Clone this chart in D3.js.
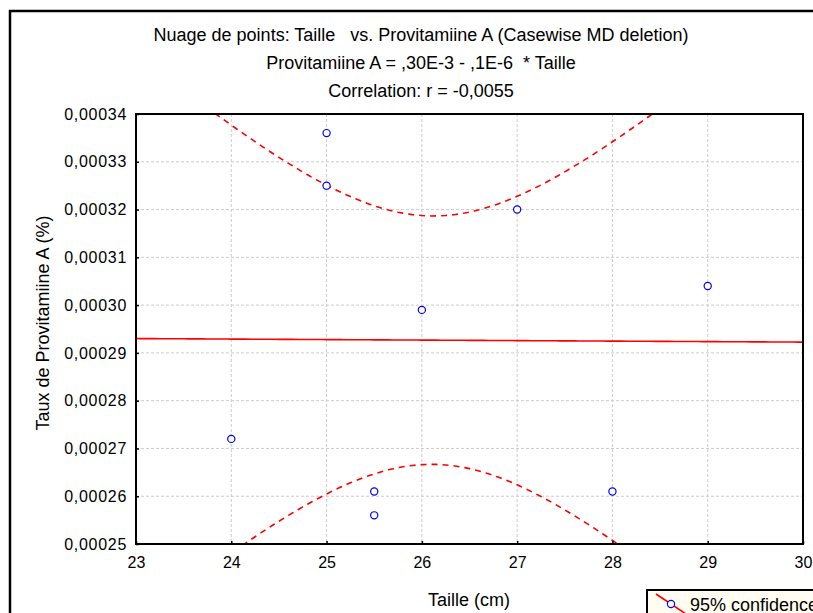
<!DOCTYPE html>
<html>
<head>
<meta charset="utf-8">
<script src="https://cdn.jsdelivr.net/npm/d3@7"></script>
<style>
body { margin: 0; background: #fff; }
text { font-family: Arial, "Liberation Sans", sans-serif; fill: #000; }
</style>
</head>
<body>
<svg id="chart" width="813" height="613"></svg>
<script>
// data
var taille = [24, 25, 25, 25.5, 25.5, 26, 27, 28, 29];
var provitA = [0.000272, 0.000336, 0.000325, 0.000261, 0.000256, 0.000299, 0.000320, 0.000261, 0.000304];
var xTicks = [23, 24, 25, 26, 27, 28, 29, 30];
var yTicks = [0.00025, 0.00026, 0.00027, 0.00028, 0.00029, 0.00030, 0.00031, 0.00032, 0.00033, 0.00034];
var titles = [
	"Nuage de points: Taille   vs. Provitamiine A (Casewise MD deletion)",
	"Provitamiine A = ,30E-3 - ,1E-6  * Taille",
	"Correlation: r = -0,0055"
];
var tCrit = 2.3646; // t(0.975, 7 df)

var svg = d3.select("#chart");

var x = d3.scaleLinear().domain([23, 30]).range([136, 803]);
var y = d3.scaleLinear().domain([0.00025, 0.00034]).range([544, 114]);

// outer frame
svg.append("rect")
	.attr("x", 10).attr("y", 11)
	.attr("width", 830).attr("height", 640)
	.style("fill", "none")
	.style("stroke", "#000")
	.style("stroke-width", 2.5);

// titles
svg.selectAll("text.title")
	.data(titles)
	.enter()
	.append("text")
	.attr("class", "title")
	.attr("x", 421)
	.attr("y", function(d, i) { return 41 + i * 28; })
	.attr("text-anchor", "middle")
	.style("font-size", "18px")
	.style("white-space", "pre")
	.text(function(d) { return d; });

// grid
svg.selectAll("line.gx")
	.data(xTicks.slice(1, -1))
	.enter()
	.append("line")
	.attr("x1", function(d) { return x(d); })
	.attr("x2", function(d) { return x(d); })
	.attr("y1", 114).attr("y2", 544)
	.style("stroke", "#cccccc")
	.style("stroke-dasharray", "3,2");

svg.selectAll("line.gy")
	.data(yTicks.slice(1, -1))
	.enter()
	.append("line")
	.attr("y1", function(d) { return y(d); })
	.attr("y2", function(d) { return y(d); })
	.attr("x1", 136).attr("x2", 803)
	.style("stroke", "#cccccc")
	.style("stroke-dasharray", "3,2");

// regression + 95% band of the mean
var n = taille.length;
var mx = d3.mean(taille), my = d3.mean(provitA);
var sxx = d3.sum(taille, function(v) { return (v - mx) * (v - mx); });
var sxy = d3.sum(taille, function(v, i) { return (v - mx) * (provitA[i] - my); });
var b = sxy / sxx, a = my - b * mx;
var sse = d3.sum(taille, function(v, i) { var r = provitA[i] - (a + b * v); return r * r; });
var s = Math.sqrt(sse / (n - 2));
function half(v) { return tCrit * s * Math.sqrt(1 / n + (v - mx) * (v - mx) / sxx); }

var xs = d3.range(23, 30.001, 0.05);

svg.append("clipPath").attr("id", "plotclip")
	.append("rect").attr("x", 136).attr("y", 114).attr("width", 667).attr("height", 430);

var plot = svg.append("g").attr("clip-path", "url(#plotclip)");

var line = d3.line()
	.x(function(d) { return x(d[0]); })
	.y(function(d) { return y(d[1]); });

plot.append("path")
	.datum(xs.map(function(v) { return [v, a + b * v]; }))
	.attr("d", line)
	.style("fill", "none")
	.style("stroke", "#ff0000")
	.style("stroke-width", 1.6);

[1, -1].forEach(function(sign) {
	plot.append("path")
		.datum(xs.map(function(v) { return [v, a + b * v + sign * half(v)]; }))
		.attr("d", line)
		.style("fill", "none")
		.style("stroke", "#ff0000")
		.style("stroke-width", 1.6)
		.style("stroke-dasharray", "6,5");
});

// points
svg.selectAll("circle.pt")
	.data(taille)
	.enter()
	.append("circle")
	.attr("class", "pt")
	.attr("cx", function(d) { return x(d); })
	.attr("cy", function(d, i) { return y(provitA[i]); })
	.attr("r", 3.6)
	.style("fill", "white")
	.style("stroke", "#0000ff")
	.style("stroke-width", 1.2);

// axes, ticks inside
var xAxis = d3.axisBottom(x).tickValues(xTicks).tickSize(-3).tickPadding(10).tickFormat(d3.format("d"));
var yAxis = d3.axisLeft(y).tickValues(yTicks).tickSize(-3).tickPadding(9)
	.tickFormat(function(d) { return d3.format(".5f")(d).replace(".", ","); });

var gx = svg.append("g").attr("transform", "translate(0,544)").call(xAxis);
var gy = svg.append("g").attr("transform", "translate(136,0)").call(yAxis);
[gx, gy].forEach(function(g) {
	g.select(".domain").remove();
	g.selectAll("line").style("stroke", "#000").style("stroke-width", 1.5);
	g.selectAll("text").style("font-size", "16px").style("font-family", "Arial, 'Liberation Sans', sans-serif");
});
gx.selectAll("text").attr("dy", "0.85em");
gy.selectAll("text").style("letter-spacing", "0.7px");

svg.append("rect")
	.attr("x", 136).attr("y", 114)
	.attr("width", 667).attr("height", 430)
	.style("fill", "none")
	.style("stroke", "#000")
	.style("stroke-width", 2);

// axis labels
svg.append("text")
	.attr("x", 469).attr("y", 606)
	.attr("text-anchor", "middle")
	.style("font-size", "18px")
	.text("Taille (cm)");

svg.append("text")
	.attr("transform", "translate(49,323) rotate(-90)")
	.attr("text-anchor", "middle")
	.style("font-size", "18px")
	.text("Taux de Provitamiine A (%)");

// legend
var lg = svg.append("g");
lg.append("rect")
	.attr("x", 647).attr("y", 590)
	.attr("width", 200).attr("height", 40)
	.style("fill", "#fffcf2")
	.style("stroke", "#000")
	.style("stroke-width", 2);
lg.append("line")
	.attr("x1", 656).attr("y1", 594).attr("x2", 686).attr("y2", 614)
	.style("stroke", "#ff0000")
	.style("stroke-width", 1.6);
lg.append("circle")
	.attr("cx", 671).attr("cy", 604).attr("r", 3.6)
	.style("fill", "white")
	.style("stroke", "#0000ff")
	.style("stroke-width", 1.2);
lg.append("text")
	.attr("x", 690).attr("y", 611)
	.style("font-size", "18px")
	.text("95% confidence");
</script>
</body>
</html>
